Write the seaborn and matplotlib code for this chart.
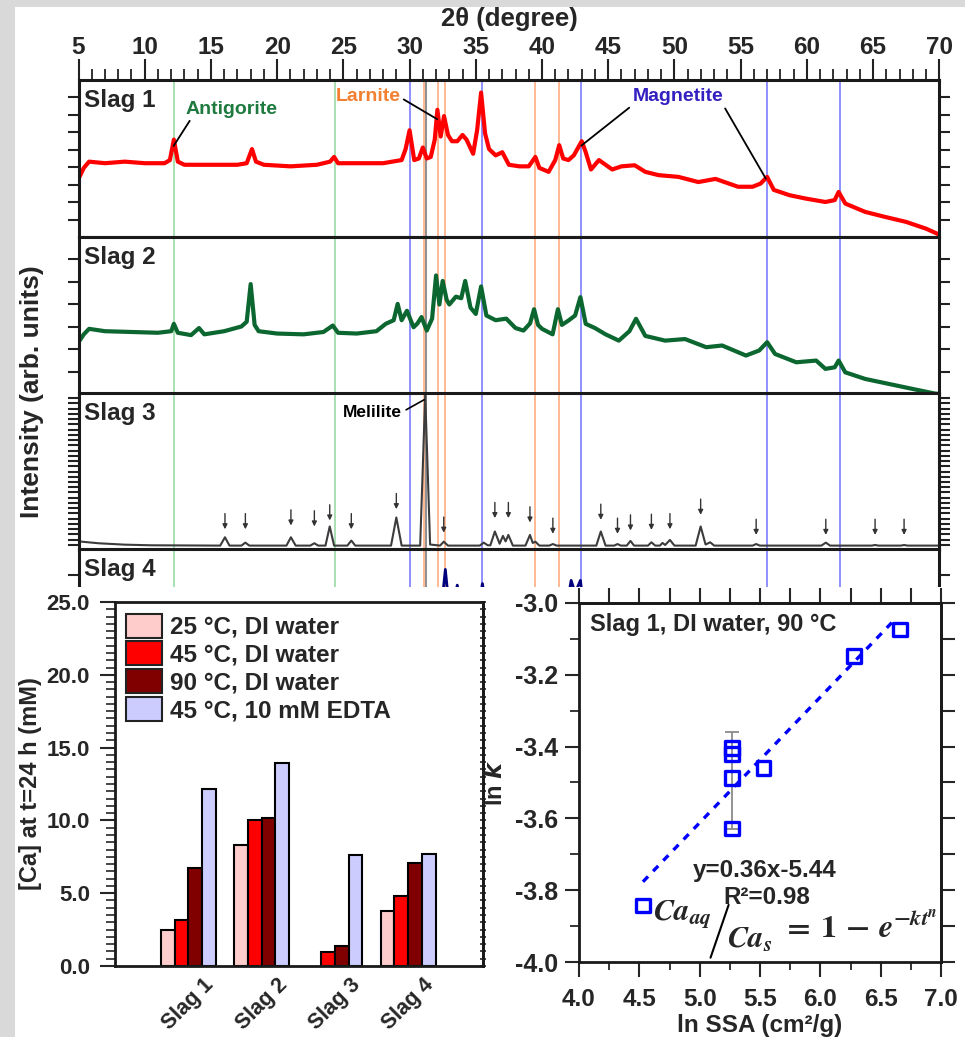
import numpy as np
import pandas as pd
import matplotlib
matplotlib.use('Agg')
import matplotlib.pyplot as plt
import matplotlib.patches as mpatches
import matplotlib.transforms as mtransforms
from matplotlib.ticker import MultipleLocator, FormatStrFormatter
import seaborn as sns

# ---------------- XRD traces (2theta, intensity in % of panel height) ----------------
slag1_theta = [5.0, 5.4, 5.8, 7.0, 8.5, 10.0, 11.5, 11.9, 12.2, 12.5, 13.0, 15.0, 17.0, 17.7, 18.1, 18.4,
               19.0, 21.0, 23.0, 24.0, 24.3, 24.6, 26.0, 28.0, 29.4, 29.7, 30.0, 30.35, 30.7, 31.0, 31.3,
               31.6, 31.9, 32.1, 32.35, 32.6, 32.9, 33.2, 33.6, 34.0, 34.3, 34.8, 35.1, 35.4, 35.7, 36.0,
               36.5, 37.0, 37.5, 38.3, 39.0, 39.5, 39.8, 40.5, 41.0, 41.3, 41.6, 42.0, 42.4, 43.0, 43.3,
               43.7, 44.3, 45.3, 46.0, 47.0, 47.8, 48.8, 50.3, 51.8, 53.1, 54.8, 55.9, 56.5, 57.0, 57.5,
               58.7, 59.9, 61.4, 62.1, 62.4, 62.9, 64.4, 65.9, 67.5, 69.0, 70.0]
slag1_int = [37, 44, 48, 47, 48, 47, 47, 49, 62, 48, 46, 46, 46, 47, 56, 48,
             46, 45, 46, 48, 51, 47, 47, 47, 49, 56, 68, 49, 50, 57, 50,
             51, 62, 81, 64, 77, 65, 61, 61, 65, 62, 53, 68, 92, 66, 56,
             52, 54, 46, 45, 45, 51, 44, 41.5, 49, 58.5, 50, 49, 52, 61, 54,
             43, 49, 43, 45, 45.7, 41.5, 39.4, 38.3, 35, 37, 32, 32, 34, 38.3, 30,
             26.6, 24.5, 22.3, 23.5, 28.7, 21.3, 16, 12.8, 9.6, 5.3, 1.5]

slag2_theta = [5.0, 5.4, 5.8, 7.0, 9.0, 11.0, 12.0, 12.2, 12.5, 13.5, 14.1, 14.5, 16.0, 17.3, 17.7, 18.0,
               18.3, 18.6, 20.0, 22.0, 23.5, 24.2, 24.6, 26.0, 27.5, 28.2, 28.8, 29.1, 29.4, 29.8, 30.3,
               30.6, 30.9, 31.3, 31.7, 32.0, 32.25, 32.5, 32.8, 33.0, 33.5, 33.9, 34.2, 34.6, 35.0, 35.4,
               35.8, 36.5, 37.3, 38.0, 38.6, 39.1, 39.4, 39.7, 40.0, 40.8, 41.2, 41.5, 42.0, 42.5, 42.9,
               43.3, 44.0, 44.8, 45.8, 46.6, 47.1, 47.8, 49.3, 50.8, 52.4, 53.6, 55.4, 56.4, 57.0, 57.6,
               59.2, 60.7, 61.4, 62.1, 62.4, 62.9, 64.4, 66.2, 68.0, 69.6, 70.0]
slag2_int = [33, 38, 41.5, 40, 39.5, 39, 40, 44.7, 39, 37.5, 42, 38, 40, 43, 46, 70,
             44, 40, 38.5, 38, 39.5, 43.6, 39, 38.5, 40, 44.7, 47, 57.4, 47, 53, 42.5,
             45, 49, 40.4, 48, 75.5, 57, 72, 60, 57, 62, 61, 72, 55, 51, 68.5,
             50, 47, 48, 42, 40.4, 45, 54, 44, 41.5, 38, 54, 44, 46.8, 50, 61.7,
             44.7, 42, 38, 34, 40, 47.9, 37, 34, 35, 29.8, 30.9, 24.5, 27.7, 33, 25.5,
             20.2, 21.3, 16, 17, 21.3, 13.8, 9.6, 6.4, 3.2, 0.4, 0]

slag3_theta = [5.0, 6.5, 8.5, 10.5, 15.7, 16.06, 16.4, 17.3, 17.6, 17.9, 20.7, 21.04, 21.4, 22.5, 22.81,
               23.1, 23.65, 23.97, 24.3, 25.3, 25.6, 25.9, 28.6, 29.0, 29.4, 30.8, 31.18, 31.55, 32.3,
               32.58, 32.9, 35.3, 35.6, 35.9, 36.1, 36.44, 36.8, 37.05, 37.25, 37.46, 37.8, 38.75, 39.09,
               39.3, 39.5, 39.8, 40.55, 40.82, 41.1, 44.1, 44.44, 44.8, 45.45, 45.7, 45.95, 46.4, 46.68,
               46.95, 48.0, 48.26, 48.55, 48.9, 49.1, 49.3, 49.66, 50.0, 51.6, 51.98, 52.35, 52.7, 53.0,
               55.9, 56.17, 56.45, 61.1, 61.43, 61.75, 64.9, 65.15, 65.4, 67.1, 67.34, 67.6, 70.0]
slag3_int = [5.5, 4.3, 3.4, 3.0, 2.8, 8.1, 2.8, 2.8, 4.7, 2.8, 2.8, 8.1, 2.8, 2.8, 4.3,
             2.8, 2.8, 15.0, 2.8, 2.8, 6.0, 2.8, 2.8, 20.7, 2.8, 2.8, 98.7, 3.5, 2.8,
             5.3, 2.8, 2.8, 4.7, 3.0, 3.0, 11.8, 4.0, 9.0, 5.5, 9.6, 2.8, 2.8, 9.6,
             4.5, 5.3, 2.8, 2.8, 3.8, 2.8, 2.8, 11.8, 2.8, 2.8, 3.8, 2.8, 2.8, 5.8,
             2.8, 2.8, 4.9, 2.8, 2.8, 4.5, 3.2, 6.4, 2.8, 2.8, 15.0, 3.5, 4.9, 2.8,
             2.8, 3.8, 2.8, 2.8, 4.7, 2.8, 2.8, 3.2, 2.8, 2.8, 3.2, 2.8, 2.8]

slag4_theta = [5.0, 32.45, 32.7, 32.95, 33.45, 33.6, 33.75, 35.35, 35.5, 35.65, 42.0, 42.2, 42.5, 42.9, 43.1, 70.0]
slag4_int = [35, 66, 87, 66, 70, 77, 70, 70, 78, 70, 70, 80, 72, 80, 66, 20]

# arrows marking the minor Slag 3 peaks (position, arrow tip height)
arrow_theta = [16.06, 17.60, 21.04, 22.81, 23.97, 25.60, 29.00, 32.58, 36.44, 37.46, 39.09,
               40.82, 44.44, 45.70, 46.68, 48.26, 49.66, 51.98, 56.17, 61.43, 65.15, 67.34]
arrow_tip = [13.2, 13.2, 15.6, 15.0, 18.8, 13.2, 26.0, 11.0, 20.3, 20.3, 17.5,
             10.3, 19.2, 10.3, 12.4, 12.8, 13.2, 22.4, 9.6, 9.6, 9.6, 9.6]

# reference phase lines
antigorite_lines = [12.18, 24.35]
larnite_lines = [31.1, 32.17, 32.66, 39.47, 41.28]
magnetite_lines = [30.02, 35.44, 42.97, 56.98, 62.5]
melilite_lines = [31.22]

# ---------------- Ca release bars ----------------
slags = ['Slag 1', 'Slag 2', 'Slag 3', 'Slag 4']
conditions = ['25 °C, DI water', '45 °C, DI water', '90 °C, DI water', '45 °C, 10 mM EDTA']
ca_25 = [2.45, 8.29, np.nan, 3.78]
ca_45 = [3.18, 10.0, 0.96, 4.83]
ca_90 = [6.75, 10.16, 1.40, 7.10]
ca_edta = [12.18, 13.92, 7.65, 7.67]
bar_colors = ['#ffcccc', '#ff0000', '#800000', '#ccccff']

# ---------------- ln k vs ln SSA ----------------
ln_ssa = [4.53, 5.27, 5.27, 5.27, 5.27, 5.53, 6.28, 6.66]
ln_k = [-3.842, -3.628, -3.487, -3.420, -3.404, -3.460, -3.148, -3.074]
err_x = [5.27]
err_mid = [-3.495]
err_half = [0.135]
fit_slope = 0.35
fit_intercept = -5.362
fit_x = np.array([4.53, 6.62])

W, H = 965, 1037


def box(l, t, r, b):
    return [l / W, 1 - b / H, (r - l) / W, (b - t) / H]


sns.set_theme(style='ticks')
plt.rcParams['font.family'] = ['Liberation Sans', 'DejaVu Sans']
plt.rcParams['font.weight'] = 'bold'
plt.rcParams['axes.labelweight'] = 'bold'

fig = plt.figure(figsize=(W / 100, H / 100), dpi=100, facecolor='#d9d9d9')
fig.add_artist(mpatches.Rectangle((15 / W, 0), (W - 15) / W, (H - 7) / H, transform=fig.transFigure,
                                  facecolor='white', edgecolor='none', zorder=-1))

# ---------------- XRD stack ----------------
tops = [80, 237, 393, 549]
traces = [(slag1_theta, slag1_int, '#ff0000', 3.0),
          (slag2_theta, slag2_int, '#0b6630', 3.0),
          (slag3_theta, slag3_int, '#3c3c3c', 1.5),
          (slag4_theta, slag4_int, '#00007f', 2.0)]
tick_steps = [100 / 9, 100 / 7, 100 / 30, 100 / 6]
xrd_axes = []
for i, (th, it, col, lw) in enumerate(traces):
    ax = fig.add_axes(box(78.5, tops[i], 939.3, tops[i] + 157))
    xrd_axes.append(ax)
    for t in antigorite_lines:
        ax.axvline(t, color='#8fd99f', lw=1.1, zorder=0.5)
    for t in larnite_lines:
        ax.axvline(t, color='#ffa577', lw=1.1, zorder=0.5)
    for t in magnetite_lines:
        ax.axvline(t, color='#7373ff', lw=1.1, zorder=0.5)
    for t in melilite_lines:
        ax.axvline(t, color='#707070', lw=1.1, zorder=0.6)
    sns.lineplot(x=th, y=it, ax=ax, color=col, lw=lw, sort=False, estimator=None, legend=False, zorder=2)
    ax.set_xlim(5, 70)
    ax.set_ylim(0, 100)
    ax.set_xlabel('')
    ax.set_ylabel('')
    ax.set_yticks([tick_steps[i] * k for k in range(1, int(round(100 / tick_steps[i])))])
    ax.tick_params(axis='y', left=True, right=True, labelleft=False, direction='out', length=8,
                   width=1.5, color='#222222')
    ax.tick_params(axis='x', bottom=False, labelbottom=False)
    for s in ax.spines.values():
        s.set_linewidth(2.2)
        s.set_color('#1a1a1a')
    ax.text(0.0065, 0.87, slags[i], transform=ax.transAxes, fontsize=17.5, weight='bold',
            va='center', ha='left')

ax1 = xrd_axes[0]
ax1.xaxis.set_ticks_position('top')
ax1.set_xticks(range(5, 71, 5))
ax1.xaxis.set_minor_locator(MultipleLocator(1))
ax1.tick_params(axis='x', which='major', top=True, labeltop=True, direction='out', length=15,
                width=1.5, labelsize=17.5, pad=0, color='#222222')
ax1.tick_params(axis='x', which='minor', top=True, direction='out', length=8, width=1.3, color='#222222')
for lab in ax1.get_xticklabels():
    lab.set_weight('bold')
for ax in xrd_axes[1:]:
    ax.tick_params(axis='x', which='both', top=False, bottom=False, labeltop=False, labelbottom=False)

ax1.annotate('Antigorite', xy=(12.18, 58), xytext=(13.07, 81.5), color='#1e7a3e', fontsize=14,
             weight='bold', va='center', ha='left',
             arrowprops=dict(arrowstyle='-', color='black', lw=1.3, shrinkA=0, shrinkB=0, relpos=(0.07, 0.0)))
ax1.annotate('Larnite', xy=(32.09, 75), xytext=(24.4, 89.4), color='#f28030', fontsize=14,
             weight='bold', va='center', ha='left',
             arrowprops=dict(arrowstyle='-', color='black', lw=1.3, shrinkA=0, shrinkB=0, relpos=(1.0, 0.45)))
ax1.annotate('Magnetite', xy=(42.97, 58.2), xytext=(46.83, 89.4), color='#3320c0', fontsize=14,
             weight='bold', va='center', ha='left',
             arrowprops=dict(arrowstyle='-', color='black', lw=1.3, shrinkA=0, shrinkB=0, relpos=(0.0, 0.0)))
ax1.annotate('Magnetite', xy=(56.9, 37.2), xytext=(46.83, 89.4), color=(0, 0, 0, 0), fontsize=14,
             weight='bold', va='center', ha='left',
             arrowprops=dict(arrowstyle='-', color='black', lw=1.3, shrinkA=0, shrinkB=0, relpos=(1.0, 0.0)))

ax3 = xrd_axes[2]
ax3.annotate('Melilite', xy=(31.1, 95.7), xytext=(29.4, 87.7), color='black', fontsize=12.5,
             weight='bold', va='center', ha='right',
             arrowprops=dict(arrowstyle='-', color='black', lw=1.2, shrinkA=1, shrinkB=0, relpos=(1.0, 0.5)))
for p, tip in zip(arrow_theta, arrow_tip):
    ax3.annotate('', xy=(p, tip), xytext=(p, tip + 10),
                 arrowprops=dict(arrowstyle='-|>', color='#333333', lw=1.0, mutation_scale=7,
                                 shrinkA=0, shrinkB=0))

fig.text(509 / W, 1 - 19 / H, '2θ (degree)', ha='center', va='center', fontsize=18.5, weight='bold')
fig.text(32 / W, 1 - 392 / H, 'Intensity (arb. units)', ha='center', va='center', rotation=90,
         fontsize=19, weight='bold')

# white cover for the lower panels
fig.add_artist(mpatches.Rectangle((15 / W, 0), (W - 15) / W, (H - 587) / H, transform=fig.transFigure,
                                  facecolor='white', edgecolor='none', zorder=1))

# ---------------- bar chart ----------------
bar_df = pd.DataFrame({
    'slag': slags * 4,
    'cond': [c for c in conditions for _ in slags],
    'ca': ca_25 + ca_45 + ca_90 + ca_edta,
})
ax_bar = fig.add_axes(box(115, 602, 483, 966))
ax_bar.set_zorder(2)
sns.barplot(data=bar_df, x='slag', y='ca', hue='cond', hue_order=conditions, palette=bar_colors,
            saturation=1, edgecolor='black', linewidth=1.5, width=0.75, gap=0, errorbar=None,
            ax=ax_bar, legend=False)
ax_bar.set_xlim(-1.0, 4.02)
ax_bar.set_ylim(0, 25)
ax_bar.set_xlabel('')
ax_bar.set_ylabel('[Ca] at t=24 h (mM)', fontsize=17, weight='bold')
ax_bar.yaxis.set_label_coords(-0.198, 0.5)
ax_bar.yaxis.set_major_locator(MultipleLocator(5))
ax_bar.yaxis.set_minor_locator(MultipleLocator(0.5))
ax_bar.yaxis.set_major_formatter(FormatStrFormatter('%.1f'))
ax_bar.tick_params(axis='y', which='major', direction='out', length=11, width=1.5, labelsize=16, pad=7)
ax_bar.tick_params(axis='y', which='minor', direction='out', length=6.5, width=1.2)
ax_bar.set_xticks(range(len(slags)))
ax_bar.set_xticklabels(slags, rotation=45, ha='right', rotation_mode='anchor', fontsize=15.5, weight='bold')
ax_bar.tick_params(axis='x', length=0, pad=6)
shift = mtransforms.ScaledTranslation(0.15, 0, fig.dpi_scale_trans)
for lab in ax_bar.get_xticklabels():
    lab.set_transform(lab.get_transform() + shift)
sec = ax_bar.secondary_yaxis('right')
sec.yaxis.set_major_locator(MultipleLocator(5))
sec.yaxis.set_minor_locator(MultipleLocator(0.5))
sec.tick_params(which='both', direction='inout', length=5, width=1.2, labelright=False)
for s in list(ax_bar.spines.values()) + [sec.spines['right']]:
    s.set_linewidth(2.0)
    s.set_color('#1a1a1a')
handles = [mpatches.Patch(facecolor=c, edgecolor='#222222', lw=1.5) for c in bar_colors]
ax_bar.legend(handles, conditions, loc='upper left', bbox_to_anchor=(0.03, 0.968), frameon=False,
              handlelength=1.5, handleheight=1.15, labelspacing=0.1, handletextpad=0.3,
              borderpad=0, borderaxespad=0, prop={'weight': 'bold', 'size': 17.5})

# ---------------- ln k vs ln SSA ----------------
ax_sc = fig.add_axes(box(579, 603, 941, 962))
ax_sc.set_zorder(2)
ax_sc.errorbar(err_x, err_mid, yerr=err_half, fmt='none', ecolor='#8a8a8a', elinewidth=1.3,
               capsize=5, capthick=1.3, zorder=2)
fit_y = fit_slope * fit_x + fit_intercept
sns.lineplot(x=fit_x, y=fit_y, ax=ax_sc, color='#0000ff', lw=2.4, linestyle=(0, (2.2, 2.2)),
             estimator=None, zorder=3)
sns.scatterplot(x=ln_ssa, y=ln_k, ax=ax_sc, marker='s', s=95, color='#0000ff', facecolor='none',
                edgecolor='#0000ff', linewidth=2.4, zorder=4)
ax_sc.set_xlim(4.0, 7.0)
ax_sc.set_ylim(-4.0, -3.0)
ax_sc.xaxis.set_major_locator(MultipleLocator(0.5))
ax_sc.xaxis.set_minor_locator(MultipleLocator(0.25))
ax_sc.yaxis.set_major_locator(MultipleLocator(0.2))
ax_sc.yaxis.set_minor_locator(MultipleLocator(0.1))
ax_sc.xaxis.set_major_formatter(FormatStrFormatter('%.1f'))
ax_sc.yaxis.set_major_formatter(FormatStrFormatter('%.1f'))
ax_sc.tick_params(axis='x', which='major', direction='out', length=11, width=1.5, labelsize=17.5, pad=8)
ax_sc.tick_params(axis='x', which='minor', direction='out', length=5.5, width=1.3)
ax_sc.tick_params(axis='y', which='major', direction='out', length=10, width=1.5, labelsize=18, pad=5)
ax_sc.tick_params(axis='y', which='minor', direction='out', length=6.5, width=1.3)
for lab in ax_sc.get_xticklabels() + ax_sc.get_yticklabels():
    lab.set_weight('bold')
sec_top = ax_sc.secondary_xaxis('top')
sec_top.xaxis.set_major_locator(MultipleLocator(0.5))
sec_top.xaxis.set_minor_locator(MultipleLocator(0.25))
sec_top.tick_params(which='both', direction='out', length=11, width=1.5, labeltop=False)
sec_right = ax_sc.secondary_yaxis('right')
sec_right.yaxis.set_major_locator(MultipleLocator(0.2))
sec_right.yaxis.set_minor_locator(MultipleLocator(0.1))
sec_right.tick_params(which='both', direction='out', length=10, width=1.5, labelright=False)
for s in list(ax_sc.spines.values()) + [sec_top.spines['top'], sec_right.spines['right']]:
    s.set_linewidth(2.0)
    s.set_color('#1a1a1a')
ax_sc.set_xlabel('ln SSA (cm²/g)', fontsize=17.5, weight='bold')
ax_sc.xaxis.set_label_coords(0.5, -0.145)
ax_sc.set_ylabel(r'ln $\mathbfit{k}$', fontsize=17, weight='bold')
ax_sc.yaxis.label.set_math_fontfamily('dejavusans')
ax_sc.yaxis.set_label_coords(-0.2, 0.5)

ax_sc.text(4.09, -3.061, 'Slag 1, DI water, 90 °C', fontsize=17, weight='bold', va='center', ha='left')
ax_sc.text(5.54, -3.744, 'y=0.36x-5.44', fontsize=17.5, weight='bold', va='center', ha='center')
ax_sc.text(5.56, -3.82, 'R²=0.98', fontsize=17.5, weight='bold', va='center', ha='center')
ax_sc.text(4.613, -3.883, r'$\mathbfit{Ca}_{\mathbfit{aq}}$', fontsize=22, va='baseline', ha='left',
           math_fontfamily='stix')
ax_sc.annotate('', xy=(5.09, -3.988), xytext=(5.24, -3.841),
               arrowprops=dict(arrowstyle='-', color='black', lw=1.5, shrinkA=0, shrinkB=0))
ax_sc.text(5.23, -3.961, r'$\mathbfit{Ca}_{\mathbfit{s}}$', fontsize=22, va='baseline', ha='left',
           math_fontfamily='stix')
ax_sc.text(5.68, -3.933, r'$=\,\mathbf{1}\,-\,\mathbfit{e}^{-\mathbfit{kt}^{\mathbfit{n}}}$', fontsize=23,
           va='baseline', ha='left', math_fontfamily='stix')

fig.savefig('out.png', dpi=100, facecolor=fig.get_facecolor())
